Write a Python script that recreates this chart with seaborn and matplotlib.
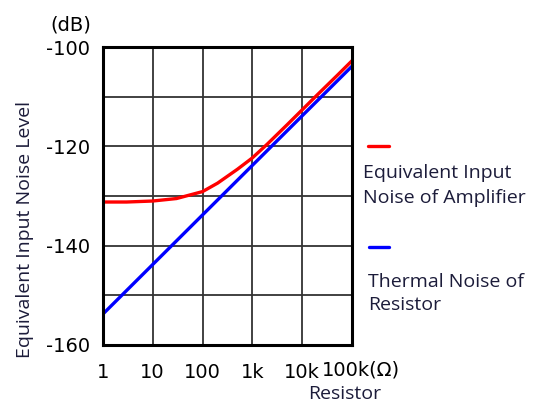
import matplotlib
matplotlib.use("Agg")
import matplotlib.pyplot as plt
import seaborn as sns
import pandas as pd
import numpy as np

# Data
amp_r = [1, 3, 10, 30, 100, 200, 500, 1000, 2000, 5000, 10000, 20000, 50000, 100000]
amp_db = [-131.2, -131.2, -131.0, -130.5, -129.1, -127.4, -124.6, -122.3, -119.5, -115.6, -112.6, -109.6, -105.7, -102.7]
th_r = [1, 10, 100, 1000, 10000, 100000]
th_db = [-153.8, -143.8, -133.8, -123.8, -113.8, -103.8]
x_ticks = [1, 10, 100, 1000, 10000, 100000]
x_labels = ["1", "10", "100", "1k", "10k", ""]
y_ticks = [-160, -140, -120, -100]
y_labels = ["-160", "-140", "-120", "-100"]
series_names = ["Equivalent Input Noise of Amplifier", "Thermal Noise of Resistor"]
series_colors = {series_names[0]: "#ff0000", series_names[1]: "#0000ff"}

df = pd.concat([
    pd.DataFrame({"R": th_r, "dB": th_db, "series": series_names[1]}),
    pd.DataFrame({"R": amp_r, "dB": amp_db, "series": series_names[0]}),
])

sns.set_style("white")
plt.rcParams["font.family"] = ["DejaVu Sans"]

fig = plt.figure(figsize=(5.41, 4.03), dpi=100)
ax = fig.add_axes([0.190, 0.144, 0.461, 0.739])

sns.lineplot(data=df, x="R", y="dB", hue="series", palette=series_colors,
             hue_order=[series_names[1], series_names[0]], linewidth=2.4,
             legend=False, ax=ax)

ax.set_xscale("log")
ax.set_xlim(1, 100000)
ax.set_ylim(-160, -100)
ax.set_xticks(x_ticks)
ax.set_xticklabels(x_labels)
ax.set_xticks([], minor=True)
ax.set_yticks(y_ticks)
ax.set_yticklabels(y_labels)
ax.set_yticks(np.arange(-160, -99, 10), minor=True)
ax.grid(True, which="major", color="#333333", linewidth=1.3)
ax.grid(True, which="minor", axis="y", color="#333333", linewidth=1.3)
ax.tick_params(axis="both", which="both", length=0, labelsize=14, colors="black")
ax.tick_params(axis="x", pad=13)
ax.tick_params(axis="y", pad=9)
for s in ax.spines.values():
    s.set_visible(True)
    s.set_color("black")
    s.set_linewidth(2.2)
ax.set_xlabel("")
ax.set_ylabel("")

lab_color = "#1c1c3a"
lab_font = ["Open Sans", "DejaVu Sans"]
lab_size = 14

# 100k(Ω) label
ax.text(1.036, -0.085, "100k(Ω)", transform=ax.transAxes, ha="center", va="center",
        fontsize=14, color="black")
# Resistor label
fig.text(345 / 541, 1 - 394 / 403, "Resistor", ha="center", va="center",
         fontsize=lab_size, color=lab_color, family=lab_font)
# Y label
fig.text(25 / 541, 1 - 230 / 403, "Equivalent Input Noise Level", rotation=90,
         ha="center", va="center", fontsize=lab_size, color=lab_color, family=lab_font)
# (dB)
fig.text(71 / 541, 1 - 25 / 403, "(dB)", ha="center", va="center", fontsize=14, color="black")

# Legend entries
fig.add_artist(plt.Line2D([368 / 541, 389 / 541], [1 - 146 / 403, 1 - 146 / 403],
                          color=series_colors[series_names[0]], linewidth=2.4))
fig.text(363 / 541, 1 - 173 / 403, "Equivalent Input", ha="left", va="center",
         fontsize=lab_size, color=lab_color, family=lab_font)
fig.text(363 / 541, 1 - 198 / 403, "Noise of Amplifier", ha="left", va="center",
         fontsize=lab_size, color=lab_color, family=lab_font)
fig.add_artist(plt.Line2D([369 / 541, 389 / 541], [1 - 247 / 403, 1 - 247 / 403],
                          color=series_colors[series_names[1]], linewidth=2.4))
fig.text(368 / 541, 1 - 282 / 403, "Thermal Noise of", ha="left", va="center",
         fontsize=lab_size, color=lab_color, family=lab_font)
fig.text(368 / 541, 1 - 305 / 403, "Resistor", ha="left", va="center",
         fontsize=lab_size, color=lab_color, family=lab_font)

fig.savefig("out.png", dpi=100, facecolor="white")
